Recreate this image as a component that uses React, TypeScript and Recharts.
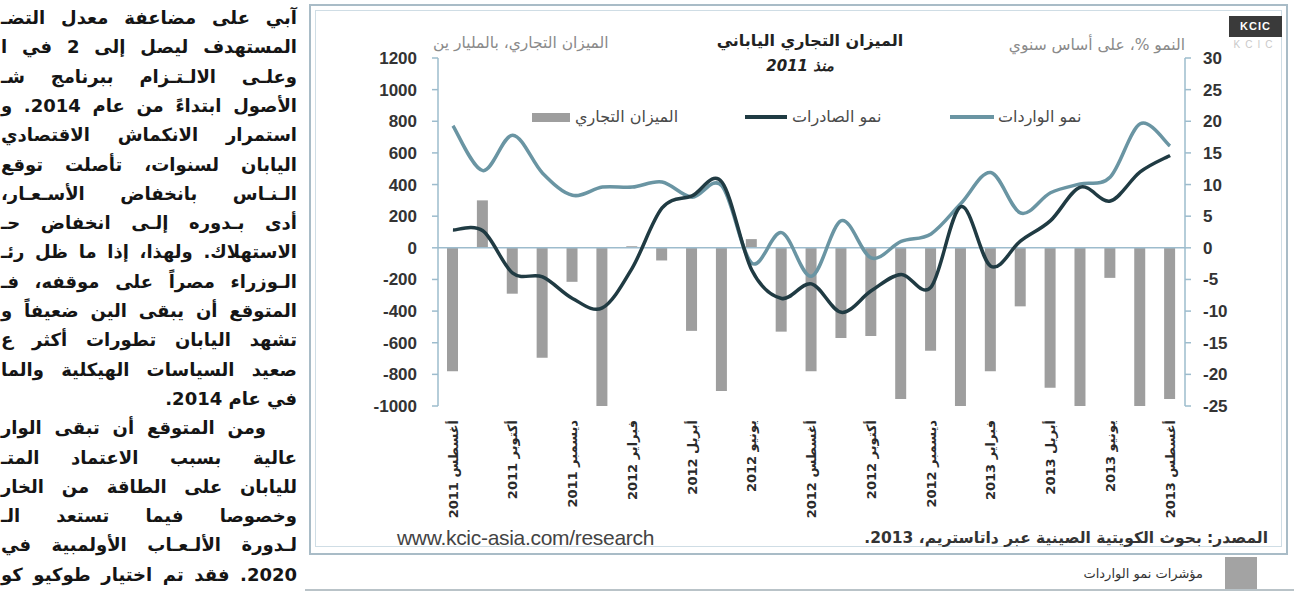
import React from 'react';
import { ComposedChart, Bar, Line, XAxis, YAxis, ReferenceLine } from 'recharts';

// ---------- data ----------
const months: string[] = [
  'أغسطس 2011', 'سبتمبر 2011', 'أكتوبر 2011', 'نوفمبر 2011', 'ديسمبر 2011',
  'يناير 2012', 'فبراير 2012', 'مارس 2012', 'أبريل 2012', 'مايو 2012',
  'يونيو 2012', 'يوليو 2012', 'أغسطس 2012', 'سبتمبر 2012', 'أكتوبر 2012',
  'نوفمبر 2012', 'ديسمبر 2012', 'يناير 2013', 'فبراير 2013', 'مارس 2013',
  'أبريل 2013', 'مايو 2013', 'يونيو 2013', 'يوليو 2013', 'أغسطس 2013',
];
const tradeBalance: number[] = [
  -780, 300, -290, -695, -215, -1005, 10, -80, -525, -905, 55, -530, -780,
  -570, -557, -955, -650, -1010, -780, -370, -885, -1010, -190, -1010, -955,
];
const exportsGrowth: number[] = [
  2.8, 2.7, -4.0, -4.6, -8.0, -9.5, -3.2, 6.3, 8.2, 10.4, -3.5, -8.0, -5.7,
  -10.2, -6.8, -4.2, -6.2, 6.5, -2.9, 1.1, 4.3, 9.6, 7.4, 12.0, 14.6,
];
const importsGrowth: number[] = [
  19.3, 12.2, 17.8, 11.8, 8.3, 9.6, 9.6, 10.4, 8.0, 9.8, -2.4, 2.4, -4.5,
  4.3, -1.6, 1.0, 2.2, 7.0, 11.9, 5.5, 8.7, 10.1, 11.2, 19.6, 16.1,
];
const leftTicks: number[] = [-1000, -800, -600, -400, -200, 0, 200, 400, 600, 800, 1000, 1200];
const rightTicks: number[] = [-25, -20, -15, -10, -5, 0, 5, 10, 15, 20, 25, 30];

const seriesBalance = 'الميزان التجاري';
const seriesExports = 'نمو الصادرات';
const seriesImports = 'نمو الواردات';

const chartTitle = 'الميزان التجاري الياباني';
const chartSubtitle = 'منذ 2011';
const leftAxisTitle = 'الميزان التجاري، بالمليار ين';
const rightAxisTitle = 'النمو %، على أساس سنوي';
const sourceText = 'المصدر: بحوث الكويتية الصينية عبر داتاستريم، 2013.';
const siteText = 'www.kcic-asia.com/research';
const captionText = 'مؤشرات نمو الواردات';

// the visible part of the newspaper column next to the chart
const articleLines: string[] = [
  'آبي على مضاعفة معدل التضـ',
  'المستهدف ليصل إلى 2 في ا',
  'وعلـى الالـتـزام ببرنامج شـ',
  'الأصول ابتداءً من عام 2014. و',
  'استمرار الانكماش الاقتصادي',
  'اليابان لسنوات، تأصلت توقع',
  'الـنـاس بانخفاض الأسـعـار،',
  'أدى بـدوره إلـى انخفاض حـ',
  'الاستهلاك. ولهذا، إذا ما ظل رئـ',
  'الـوزراء مصراً على موقفه، فـ',
  'المتوقع أن يبقى الين ضعيفاً و',
  'تشهد اليابان تطورات أكثر ع',
  'صعيد السياسات الهيكلية والما',
  'في عام 2014.',
  'ومن المتوقع أن تبقى الوار',
  'عالية بسبب الاعتماد المتـ',
  'لليابان على الطاقة من الخار',
  'وخصوصا فيما تستعد الـ',
  'لـدورة الألـعـاب الأولمبية في',
  '2020. فقد تم اختيار طوكيو كو',
];
const indentedLines: number[] = [14];
const shortLines: number[] = [13];

const data = months.map((m, i) => ({
  month: m,
  balance: tradeBalance[i],
  exp: exportsGrowth[i],
  imp: importsGrowth[i],
}));

// Excel-like smooth curve (Catmull-Rom style bezier)
const smoothCurve: any = (context: any) => {
  let pts: number[][] = [];
  return {
    areaStart() {},
    areaEnd() {},
    lineStart() { pts = []; },
    point(x: number, y: number) { pts.push([+x, +y]); },
    lineEnd() {
      if (!pts.length) return;
      context.moveTo(pts[0][0], pts[0][1]);
      const t = 1 / 6;
      for (let i = 0; i < pts.length - 1; i++) {
        const p0 = pts[i - 1] || pts[i];
        const p1 = pts[i];
        const p2 = pts[i + 1];
        const p3 = pts[i + 2] || p2;
        context.bezierCurveTo(
          p1[0] + (p2[0] - p0[0]) * t, p1[1] + (p2[1] - p0[1]) * t,
          p2[0] - (p3[0] - p1[0]) * t, p2[1] - (p3[1] - p1[1]) * t,
          p2[0], p2[1]
        );
      }
    },
  };
};

const AR = '"DejaVu Sans", sans-serif';
const NUM = '"Liberation Sans", Arial, sans-serif';
const axisColor = '#9dbccd';
const barColor = '#9e9e9e';
const expColor = '#203b43';
const impColor = '#6a95a3';

const XTick = (props: any) => {
  const { x, y, payload } = props;
  return (
    <text
      x={x}
      y={y}
      transform={`rotate(-90, ${x}, ${y})`}
      textAnchor="end"
      dy="0.36em"
      fontFamily={AR}
      fontSize={13}
      fontWeight="bold"
      fill="#2a2a2a"
    >
      {payload.value}
    </text>
  );
};

const abs = (s: React.CSSProperties): React.CSSProperties => ({ position: 'absolute', ...s });

export default function App() {
  return (
    <div style={abs({ left: 0, top: 0, width: 1294, height: 593, background: '#ffffff', overflow: 'hidden' })}>
      {/* article column */}
      {articleLines.map((line, i) => {
        const indent = indentedLines.includes(i) ? 31 : 0;
        const short = shortLines.includes(i);
        return (
          <div
            key={i}
            style={abs({
              left: 1,
              top: 18 + i * 29.3 - 14,
              width: 296 - indent,
              height: 28,
              lineHeight: '28px',
              direction: 'rtl',
              textAlign: short ? 'right' : 'justify',
              textAlignLast: short ? 'right' : 'justify',
              whiteSpace: 'nowrap',
              fontFamily: AR,
              fontWeight: 'bold',
              fontSize: 18,
              color: '#151515',
            } as React.CSSProperties)}
          >
            {line}
          </div>
        );
      })}

      {/* frame */}
      <div style={abs({ left: 309, top: 4, width: 979, height: 551, border: '2px solid #a9bcc7', boxSizing: 'border-box' })} />
      <div style={abs({ left: 315, top: 10, width: 967, height: 537, border: '1px solid #cfdde5', boxSizing: 'border-box' })} />

      {/* logo */}
      <div style={abs({ left: 1229, top: 16, width: 53, height: 21, background: '#3a3a3a', color: '#fff', fontFamily: NUM, fontSize: 11, fontWeight: 'bold', textAlign: 'center', lineHeight: '21px', letterSpacing: 1 })}>KCIC</div>
      <div style={abs({ left: 1229, top: 39, width: 53, height: 12, color: '#c9c9c9', fontFamily: NUM, fontSize: 10, textAlign: 'center', lineHeight: '12px', letterSpacing: 5 })}>KCIC</div>

      {/* chart */}
      <div style={abs({ left: 310, top: 0 })}>
        <ComposedChart width={980} height={553} data={data} margin={{ top: 58, right: 45, bottom: 27, left: 68 }}>
          <XAxis
            dataKey="month"
            interval={1}
            tick={<XTick />}
            tickLine={false}
            axisLine={false}
            tickSize={0}
            tickMargin={14}
            height={120}
          />
          <YAxis
            yAxisId="left"
            orientation="left"
            width={60}
            domain={[-1000, 1200]}
            ticks={leftTicks}
            interval={0}
            allowDataOverflow
            tickSize={6}
            tickMargin={15}
            axisLine={{ stroke: axisColor, strokeWidth: 1.5 }}
            tickLine={{ stroke: axisColor, strokeWidth: 1.5 }}
            tick={{ fill: '#333', fontSize: 17, fontWeight: 'bold', fontFamily: NUM }}
          />
          <YAxis
            yAxisId="right"
            orientation="right"
            width={60}
            domain={[-25, 30]}
            ticks={rightTicks}
            interval={0}
            allowDataOverflow
            tickSize={6}
            tickMargin={12}
            axisLine={{ stroke: axisColor, strokeWidth: 1.5 }}
            tickLine={{ stroke: axisColor, strokeWidth: 1.5 }}
            tick={{ fill: '#333', fontSize: 17, fontWeight: 'bold', fontFamily: NUM, textAnchor: 'start' }}
          />
          <ReferenceLine yAxisId="left" y={0} stroke={axisColor} strokeWidth={1.5} />
          <Bar yAxisId="left" dataKey="balance" name={seriesBalance} fill={barColor} barSize={11} isAnimationActive={false} />
          <Line yAxisId="right" dataKey="imp" name={seriesImports} type={smoothCurve} stroke={impColor} strokeWidth={3.5} dot={false} activeDot={false} isAnimationActive={false} />
          <Line yAxisId="right" dataKey="exp" name={seriesExports} type={smoothCurve} stroke={expColor} strokeWidth={3.5} dot={false} activeDot={false} isAnimationActive={false} />
        </ComposedChart>
      </div>

      {/* titles */}
      <div style={abs({ left: 700, top: 30, width: 220, textAlign: 'center', direction: 'rtl', fontFamily: AR, fontWeight: 'bold', fontSize: 16, color: '#222', lineHeight: '22px' })}>{chartTitle}</div>
      <div style={abs({ left: 740, top: 56, width: 120, textAlign: 'center', direction: 'rtl', fontFamily: AR, fontWeight: 'bold', fontStyle: 'italic', fontSize: 15, color: '#222', lineHeight: '20px' })}>{chartSubtitle}</div>
      <div style={abs({ left: 433, top: 34, width: 200, textAlign: 'left', direction: 'rtl', fontFamily: AR, fontSize: 15.5, color: '#8a8a8a', lineHeight: '18px', whiteSpace: 'nowrap' })}>{leftAxisTitle}</div>
      <div style={abs({ left: 985, top: 36, width: 200, textAlign: 'right', direction: 'rtl', fontFamily: AR, fontSize: 15.5, color: '#8a8a8a', lineHeight: '18px', whiteSpace: 'nowrap' })}>{rightAxisTitle}</div>

      {/* legend */}
      <div style={abs({ left: 532, top: 113, width: 38, height: 9, background: barColor })} />
      <div style={abs({ left: 575, top: 106, whiteSpace: 'nowrap', direction: 'rtl', fontFamily: AR, fontSize: 16, color: '#4a4a4a', lineHeight: '22px' })}>{seriesBalance}</div>
      <div style={abs({ left: 745, top: 115, width: 42, height: 4, background: expColor })} />
      <div style={abs({ left: 792, top: 106, whiteSpace: 'nowrap', direction: 'rtl', fontFamily: AR, fontSize: 16, color: '#4a4a4a', lineHeight: '22px' })}>{seriesExports}</div>
      <div style={abs({ left: 950, top: 115, width: 44, height: 4, background: impColor })} />
      <div style={abs({ left: 998, top: 106, whiteSpace: 'nowrap', direction: 'rtl', fontFamily: AR, fontSize: 16, color: '#4a4a4a', lineHeight: '22px' })}>{seriesImports}</div>

      {/* source & site */}
      <div style={abs({ left: 397, top: 526, whiteSpace: 'nowrap', fontFamily: NUM, fontSize: 21, color: '#444', lineHeight: '24px', letterSpacing: -0.3 })}>{siteText}</div>
      <div style={abs({ left: 840, top: 527, width: 428, textAlign: 'right', direction: 'rtl', whiteSpace: 'nowrap', fontFamily: AR, fontWeight: 'bold', fontSize: 15.5, color: '#333', lineHeight: '22px' })}>{sourceText}</div>

      {/* bottom caption */}
      <div style={abs({ left: 1225, top: 557, width: 32, height: 33, background: '#a3a3a3' })} />
      <div style={abs({ left: 1000, top: 564, width: 203, textAlign: 'right', direction: 'rtl', whiteSpace: 'nowrap', fontFamily: AR, fontSize: 13, color: '#333', lineHeight: '20px' })}>{captionText}</div>
      <div style={abs({ left: 305, top: 589, width: 989, height: 2, background: '#b9c3c8' })} />
    </div>
  );
}
